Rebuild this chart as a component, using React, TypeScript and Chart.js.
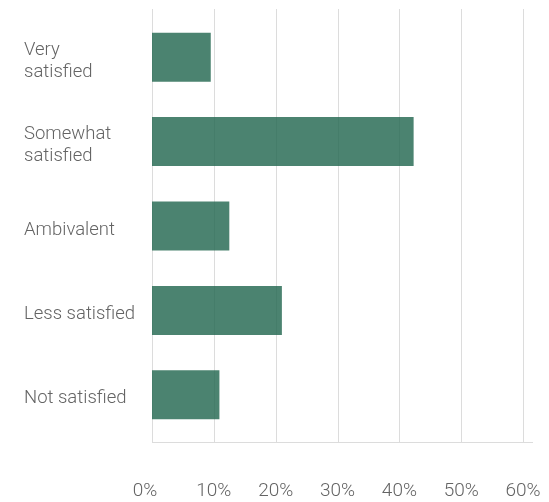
import React, { useEffect, useRef } from "react";
import { Chart, registerables } from "chart.js";

Chart.register(...registerables);

const categories: (string | string[])[] = [
  ["Very", "satisfied"],
  ["Somewhat", "satisfied"],
  "Ambivalent",
  "Less satisfied",
  "Not satisfied",
];
const shares = [9.5, 42.3, 12.5, 21.0, 10.9];
const tickValues = [0, 10, 20, 30, 40, 50, 60];
const axisMax = 61.6;

const BAR_COLOR = "rgba(39,106,83,0.83)";
const GRID_COLOR = "#dcdcdc";
const TEXT_COLOR = "#646464";

const gridPlugin = {
  id: "extendedGrid",
  beforeDatasetsDraw(chart: any) {
    const { ctx, chartArea, scales } = chart;
    const x = scales.x;
    ctx.save();
    ctx.strokeStyle = GRID_COLOR;
    ctx.lineWidth = 1;
    for (const v of tickValues) {
      const px = Math.round(x.getPixelForValue(v)) + 0.5;
      ctx.beginPath();
      ctx.moveTo(px, chartArea.top - 6);
      ctx.lineTo(px, chartArea.bottom + 5);
      ctx.stroke();
    }
    const py = Math.round(chartArea.bottom + 5) + 0.5;
    ctx.beginPath();
    ctx.moveTo(chartArea.left, py);
    ctx.lineTo(chartArea.right, py);
    ctx.stroke();
    ctx.restore();
  },
};

export default function App() {
  const ref = useRef<HTMLCanvasElement>(null);
  useEffect(() => {
    document.body.style.margin = "0";
    const chart = new Chart(ref.current!, {
      type: "bar",
      data: {
        labels: categories,
        datasets: [
          {
            data: shares,
            backgroundColor: BAR_COLOR,
            borderWidth: 0,
            barPercentage: 0.58,
            categoryPercentage: 1,
          },
        ],
      },
      options: {
        indexAxis: "y",
        animation: false,
        responsive: false,
        devicePixelRatio: 1,
        layout: { padding: { left: 24, top: 15, right: 16, bottom: 0 } },
        plugins: { legend: { display: false }, tooltip: { enabled: false } },
        scales: {
          x: {
            min: 0,
            max: axisMax,
            grid: { display: false },
            border: { display: false },
            afterFit: (s: any) => {
              s.height = 65;
              s.paddingLeft = 0;
              s.paddingRight = 0;
            },
            ticks: {
              stepSize: 10,
              includeBounds: false,
              padding: 35,
              color: TEXT_COLOR,
              font: { family: "Roboto", size: 19, weight: "300" },
              callback: (v: any) => (v === 0 ? "0%   " : v + "%"),
            },
          },
          y: {
            grid: { display: false },
            border: { display: false },
            afterFit: (s: any) => {
              s.width = 128;
              s.paddingTop = 0;
              s.paddingBottom = 0;
            },
            ticks: {
              crossAlign: "far",
              labelOffset: 4,
              color: TEXT_COLOR,
              font: { family: "Roboto", size: 18.5, weight: "300", lineHeight: 1.2 },
            },
          },
        },
      },
      plugins: [gridPlugin],
    });
    return () => chart.destroy();
  }, []);
  return (
    <div style={{ width: 549, height: 502 }}>
      <canvas ref={ref} width={549} height={502} />
    </div>
  );
}
